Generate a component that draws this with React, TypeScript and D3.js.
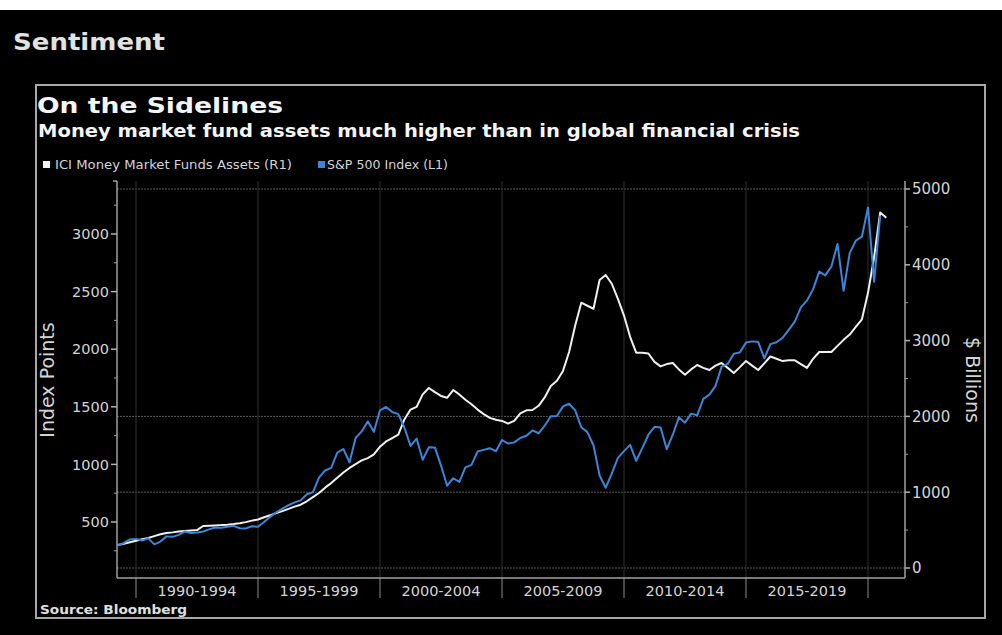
import React from 'react';
import * as d3 from 'd3';

// Quarter-end dates: year + quarter/4
const years = [1989,1990,1991,1992,1993,1994,1995,1996,1997,1998,1999,2000,2001,2002,2003,2004,2005,2006,2007,2008,2009,2010,2011,2012,2013,2014,2015,2016,2017,2018,2019,2020];
const quarterEnds = [0.25, 0.5, 0.75, 1.0];

// S&P 500 Index (L1), quarterly
const spx: (number | null)[] = [
  294.9, 317.98, 349.15, 353.4,
  339.94, 358.02, 306.05, 330.22,
  375.22, 371.16, 387.86, 417.09,
  403.69, 408.14, 417.8, 435.71,
  451.67, 450.53, 458.93, 466.45,
  445.77, 444.27, 462.69, 459.27,
  500.71, 544.75, 584.41, 615.93,
  645.5, 670.63, 687.33, 740.74,
  757.12, 885.14, 947.28, 970.43,
  1101.75, 1133.84, 1017.01, 1229.23,
  1286.37, 1372.71, 1282.71, 1469.25,
  1498.58, 1454.6, 1436.51, 1320.28,
  1160.33, 1224.42, 1040.94, 1148.08,
  1147.39, 989.82, 815.28, 879.82,
  848.18, 974.5, 995.97, 1111.92,
  1126.21, 1140.84, 1114.58, 1211.92,
  1180.59, 1191.33, 1228.81, 1248.29,
  1294.83, 1270.2, 1335.85, 1418.3,
  1420.86, 1503.35, 1526.75, 1468.36,
  1322.7, 1280.0, 1166.36, 903.25,
  797.87, 919.32, 1057.08, 1115.1,
  1169.43, 1030.71, 1141.2, 1257.64,
  1325.83, 1320.64, 1131.42, 1257.6,
  1408.47, 1362.16, 1440.67, 1426.19,
  1569.19, 1606.28, 1681.55, 1848.36,
  1872.34, 1960.23, 1972.29, 2058.9,
  2067.89, 2063.11, 1920.03, 2043.94,
  2059.74, 2098.86, 2168.27, 2238.83,
  2362.72, 2423.41, 2519.36, 2673.61,
  2640.87, 2718.37, 2913.98, 2506.85,
  2834.4, 2941.76, 2976.74, 3230.78,
  2584.59, 3160, null, null,
];

// ICI Money Market Funds Assets (R1), $ billions, quarterly
const ici: (number | null)[] = [
  303, 320, 340, 360,
  380, 395, 420, 445,
  462, 470, 480, 488,
  494, 500, 554, 558,
  562, 566, 572, 580,
  590, 605, 625, 640,
  670, 695, 725, 750,
  780, 810, 835, 880,
  935, 990, 1060, 1120,
  1190, 1260, 1320, 1370,
  1420, 1450, 1500, 1600,
  1670, 1715, 1760, 1960,
  2090, 2125, 2290, 2375,
  2320, 2270, 2245, 2348,
  2290, 2220, 2160, 2090,
  2030, 1980, 1955, 1940,
  1905, 1940, 2040, 2080,
  2085, 2140, 2250, 2400,
  2470, 2600, 2850, 3200,
  3500, 3460, 3420, 3800,
  3865, 3750, 3550, 3330,
  3050, 2840, 2840, 2830,
  2720, 2660, 2690, 2704,
  2620, 2550, 2620, 2678,
  2640, 2612, 2670, 2704,
  2640, 2572, 2650, 2731,
  2670, 2612, 2700, 2790,
  2760, 2730, 2740, 2740,
  2690, 2640, 2760, 2850,
  2850, 2850, 2930, 3010,
  3080, 3180, 3280, 3630,
  4100, 4690, 4620, null,
];

const periodLabels = ['1990-1994', '1995-1999', '2000-2004', '2005-2009', '2010-2014', '2015-2019'];
const periodBounds = [1990, 1995, 2000, 2005, 2010, 2015, 2020];
const leftTicks = [500, 1000, 1500, 2000, 2500, 3000];
const leftMinor = [250, 750, 1250, 1750, 2250, 2750, 3250];
const rightTicks = [0, 1000, 2000, 3000, 4000, 5000];
const rightMinor = [500, 1500, 2500, 3500, 4500];
const rightGrid = [0, 1000, 2000, 5000];

const W = 1002;
const H = 635;
const P = { left: 117, right: 905, top: 181, bottom: 578 };

const x = d3.scaleLinear().domain([1990, 2020]).range([136, 868]);
const yL = d3.scaleLinear().domain([0, 3000]).range([579.6, 234]);
const yR = d3.scaleLinear().domain([0, 5000]).range([568, 189]);

const dates: number[] = [];
years.forEach((yr) => quarterEnds.forEach((q) => dates.push(yr + q - 0.25 + 0.25)));

type Pt = { t: number; v: number | null };
const spxPts: Pt[] = dates.map((t, i) => ({ t, v: spx[i] ?? null }));
const iciPts: Pt[] = dates.map((t, i) => ({ t, v: ici[i] ?? null }));

const lineL = d3.line<Pt>().defined((d) => d.v != null).x((d) => x(d.t)).y((d) => yL(d.v as number));
const lineR = d3.line<Pt>().defined((d) => d.v != null).x((d) => x(d.t)).y((d) => yR(d.v as number));

const FONT = '"DejaVu Sans", Verdana, sans-serif';
const TXT = '#d4d4d4';

export default function App() {
  return (
    <svg width={W} height={H} style={{ position: 'absolute', left: 0, top: 0, display: 'block' }} fontFamily={FONT}>
      <rect x={0} y={0} width={W} height={H} fill="#000" />
      <rect x={0} y={0} width={W} height={10} fill="#fff" />
      <text x={13} y={50} fontSize={23} fontWeight="bold" fill="#e2e2e2" textLength={152} lengthAdjust="spacingAndGlyphs">Sentiment</text>
      <rect x={36} y={85} width={949} height={533} fill="none" stroke="#a8a8a8" strokeWidth={2} />
      <text x={37} y={113} fontSize={21} fontWeight="bold" fill="#f4f4f4" textLength={246} lengthAdjust="spacingAndGlyphs">On the Sidelines</text>
      <text x={38} y={137} fontSize={17.5} fontWeight="bold" fill="#f4f4f4" textLength={762} lengthAdjust="spacingAndGlyphs">Money market fund assets much higher than in global financial crisis</text>
      {/* legend */}
      <rect x={43} y={161} width={7} height={7} fill="#f2f2f2" />
      <text x={55} y={169} fontSize={11.5} fill={TXT} textLength={237} lengthAdjust="spacingAndGlyphs">ICI Money Market Funds Assets (R1)</text>
      <rect x={318} y={161} width={7} height={7} fill="#3a86d8" />
      <text x={327} y={169} fontSize={11.5} fill={TXT} textLength={121} lengthAdjust="spacingAndGlyphs">S&amp;P 500 Index (L1)</text>

      {/* grid */}
      {rightGrid.map((v) => (
        <line key={'g' + v} x1={P.left} x2={P.right} y1={yR(v)} y2={yR(v)} stroke="#5a5a5a" strokeWidth={1} strokeDasharray="2 1" />
      ))}
      {periodBounds.map((b) => (
        <g key={'pb' + b}>
          <line x1={x(b)} x2={x(b)} y1={P.top} y2={P.bottom} stroke="#2e2e2e" strokeWidth={1} />
          <line x1={x(b)} x2={x(b)} y1={P.bottom} y2={598} stroke="#8a8a8a" strokeWidth={1} />
        </g>
      ))}

      {/* axes */}
      <line x1={P.left} x2={P.right} y1={P.bottom} y2={P.bottom} stroke="#a0a0a0" strokeWidth={1.5} />
      <line x1={P.left} x2={P.left} y1={P.top} y2={P.bottom} stroke="#a0a0a0" strokeWidth={1.5} />
      <line x1={P.right} x2={P.right} y1={P.top} y2={P.bottom} stroke="#a0a0a0" strokeWidth={1.5} />
      <line x1={P.left - 4} x2={P.left} y1={P.top} y2={P.top} stroke="#a0a0a0" strokeWidth={1.5} />
      {leftTicks.map((v) => (
        <g key={'lt' + v}>
          <line x1={P.left - 6} x2={P.left} y1={yL(v)} y2={yL(v)} stroke="#b0b0b0" strokeWidth={1.5} />
          <text x={P.left - 8} y={yL(v)} dy="0.36em" textAnchor="end" fontSize={14.5} fill={TXT}>{v}</text>
        </g>
      ))}
      {leftMinor.map((v) => (
        <line key={'lm' + v} x1={P.left - 3} x2={P.left} y1={yL(v)} y2={yL(v)} stroke="#a0a0a0" strokeWidth={1} />
      ))}
      {rightTicks.map((v) => (
        <g key={'rt' + v}>
          <line x1={P.right} x2={P.right + 5} y1={yR(v)} y2={yR(v)} stroke="#b0b0b0" strokeWidth={1.5} />
          <text x={P.right + 7} y={yR(v)} dy="0.36em" textAnchor="start" fontSize={15} fill={TXT}>{v}</text>
        </g>
      ))}
      {rightMinor.map((v) => (
        <line key={'rm' + v} x1={P.right} x2={P.right + 3} y1={yR(v)} y2={yR(v)} stroke="#a0a0a0" strokeWidth={1} />
      ))}
      {periodLabels.map((lab, i) => (
        <text key={lab} x={(x(periodBounds[i]) + x(periodBounds[i + 1])) / 2} y={596} textAnchor="middle" fontSize={14.5} fill={TXT}>{lab}</text>
      ))}
      <text transform={`translate(54,380) rotate(-90)`} textAnchor="middle" fontSize={19} fill={TXT}>Index Points</text>
      <text transform={`translate(966,380) rotate(90)`} textAnchor="middle" fontSize={19} fill={TXT}>$ Billions</text>

      {/* series */}
      <path d={lineR(iciPts) || ''} fill="none" stroke="#f0f0f0" strokeWidth={2} strokeLinejoin="round" />
      <path d={lineL(spxPts) || ''} fill="none" stroke="#3a86d8" strokeWidth={2} strokeLinejoin="round" />

      <text x={40} y={614} fontSize={11.5} fontWeight="bold" fill="#e0e0e0" textLength={147} lengthAdjust="spacingAndGlyphs">Source: Bloomberg</text>
    </svg>
  );
}
